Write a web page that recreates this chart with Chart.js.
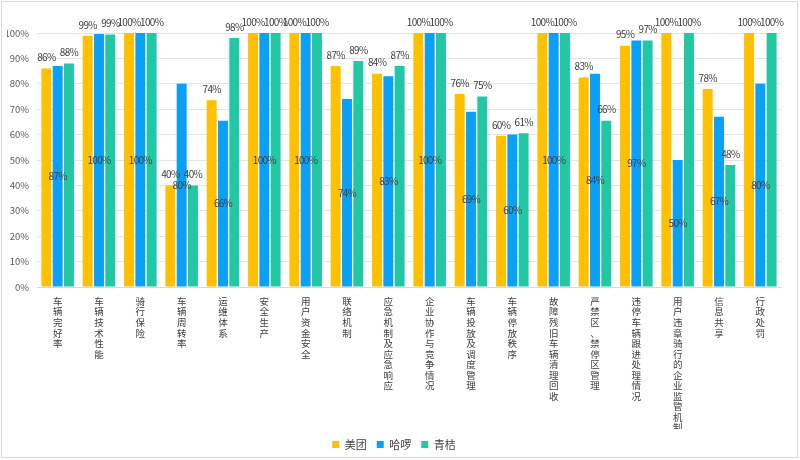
<!DOCTYPE html>
<html>
<head>
<meta charset="utf-8">
<script src="https://cdn.jsdelivr.net/npm/chart.js@4.4.0/dist/chart.umd.min.js"></script>
<style>
  html, body { margin: 0; padding: 0; background: #fff; }
  #wrap { width: 800px; height: 460px; }
</style>
</head>
<body>
<div id="wrap"><canvas id="myChart" width="800" height="460"></canvas></div>
<script>
var categories = ['车辆完好率','车辆技术性能','骑行保险','车辆周转率','运维体系','安全生产','用户资金安全','联络机制',
  '应急机制及应急响应','企业协作与竞争情况','车辆投放及调度管理','车辆停放秩序','故障残旧车辆清理回收',
  '严禁区、禁停区管理','违停车辆跟进处理情况','用户违章骑行的企业监管机制','信息共享','行政处罚'];
var seriesNames = ['美团','哈啰','青桔'];
var meituan = [86, 98.9, 100, 40, 73.5, 100, 100, 87, 84, 100, 76, 59.5, 100, 82.5, 95, 100, 78, 100];
var hellobike = [87, 99.6, 100, 80, 65.5, 100, 100, 74, 83, 100, 69, 60, 100, 84, 97, 50, 67, 80];
var qingju = [88, 99.4, 100, 40, 98, 100, 100, 89, 87, 100, 75, 60.5, 100, 65.5, 97, 100, 48, 100];
var yTicks = [0, 10, 20, 30, 40, 50, 60, 70, 80, 90, 100];

var colors = ['#FFC000', '#0AA0F5', '#22C7A3'];
var fontFamily = '"Noto Sans CJK SC", "Noto Sans", sans-serif';

// frame around the picture
var framePlugin = {
  id: 'frame',
  beforeDraw: function(chart) {
    var c = chart.ctx;
    c.save();
    c.fillStyle = '#fff';
    c.fillRect(0, 0, chart.width, chart.height);
    c.strokeStyle = '#d9d9d9';
    c.lineWidth = 1;
    c.strokeRect(1.5, 1.5, chart.width - 4, chart.height - 4);
    c.restore();
  }
};

// value labels: 哈啰 in the middle of the bar, the others above it
var valueLabels = {
  id: 'valueLabels',
  afterDatasetsDraw: function(chart) {
    var c = chart.ctx;
    c.save();
    c.font = '10px ' + fontFamily;
    c.fillStyle = '#404040';
    c.textAlign = 'center';
    c.textBaseline = 'middle';
    if ('letterSpacing' in c) c.letterSpacing = '-0.7px';
    chart.data.datasets.forEach(function(ds, i) {
      chart.getDatasetMeta(i).data.forEach(function(bar, j) {
        var txt = Math.round(ds.data[j]) + '%';
        var y = i === 1 ? (bar.y + bar.base) / 2 : bar.y - 11;
        c.fillText(txt, bar.x, y);
      });
    });
    c.restore();
  }
};

var ctx = document.getElementById('myChart').getContext('2d');
var myChart = new Chart(ctx, {
  type: 'bar',
  data: {
    labels: categories.map(function(s) { return s.split(''); }),
    datasets: [
      { label: seriesNames[0], data: meituan, backgroundColor: colors[0] },
      { label: seriesNames[1], data: hellobike, backgroundColor: colors[1] },
      { label: seriesNames[2], data: qingju, backgroundColor: colors[2] }
    ]
  },
  options: {
    responsive: false,
    animation: false,
    layout: { padding: { top: 33, left: 7, right: 19, bottom: 0 } },
    datasets: { bar: { categoryPercentage: 0.82, barPercentage: 0.88 } },
    scales: {
      x: {
        grid: { display: false, drawTicks: false },
        border: { display: true, color: '#d9d9d9' },
        ticks: {
          autoSkip: false, maxRotation: 0, minRotation: 0, padding: 9,
          color: '#404040',
          font: { family: fontFamily, size: 9.5, lineHeight: 1.11 }
        },
        afterFit: function(s) { s.height = 142; }
      },
      y: {
        min: 0, max: 100,
        afterBuildTicks: function(s) { s.ticks = yTicks.map(function(v) { return { value: v }; }); },
        grid: { color: '#e3e3e3', drawTicks: false },
        border: { display: false },
        ticks: {
          padding: 8, color: '#595959',
          font: { family: fontFamily, size: 9.5 },
          callback: function(v) { return v + '%'; }
        },
        afterFit: function(s) { s.width = 30; }
      }
    },
    plugins: {
      legend: {
        position: 'bottom',
        labels: {
          boxWidth: 7, boxHeight: 7, padding: 10, color: '#404040',
          font: { family: fontFamily, size: 11 }
        }
      },
      tooltip: { enabled: false }
    }
  },
  plugins: [framePlugin, valueLabels]
});
</script>
</body>
</html>
